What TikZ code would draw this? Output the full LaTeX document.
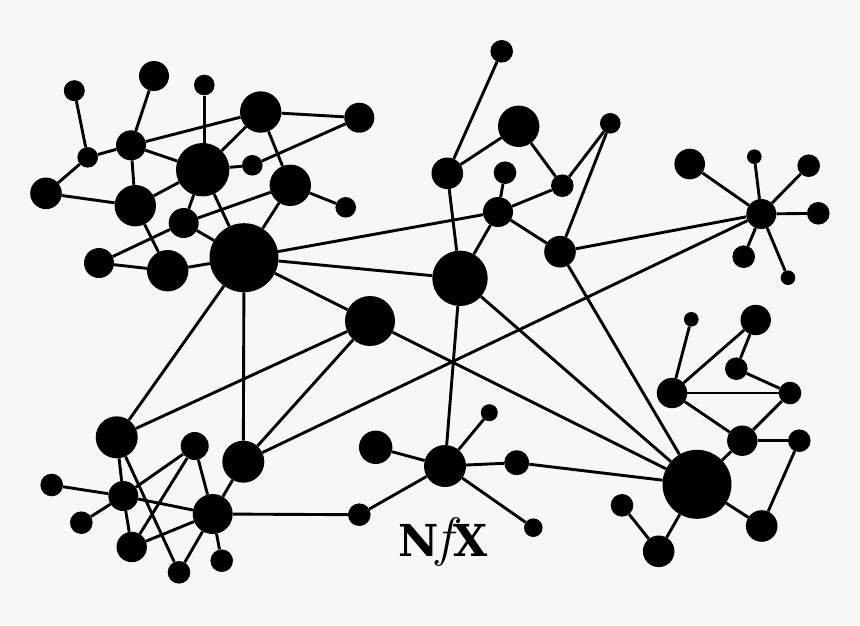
\documentclass[tikz,border=0pt]{standalone}
\usepackage{fontspec}
\newfontfamily\logoface{DejaVu Serif Bold}
\definecolor{paper}{HTML}{F7F7F7}
\tikzset{
  dot/.style={circle,fill=black,draw=none,inner sep=0pt,minimum size=#1},
  link/.style={draw=black,line width=2.9pt},
}
\begin{document}
\begin{tikzpicture}[x=1pt,y=-1pt]
\fill[paper] (0,0) rectangle (860,625);
\useasboundingbox (0,0) rectangle (860,625);
% top-left cluster
\node[dot=21] (a1) at (74.3,90.7) {};
\node[dot=30] (a2) at (154,76) {};
\node[dot=20.6] (a3) at (204.3,85) {};
\node[dot=41.4] (a4) at (260.7,112) {};
\node[dot=30] (a5) at (359.3,117.7) {};
\node[dot=30] (a6) at (131,145.3) {};
\node[dot=20.6] (a7) at (87.7,157.3) {};
\node[dot=53.4] (a8) at (202.7,169.7) {};
\node[dot=20.6] (a9) at (252.3,165.3) {};
\node[dot=41.4] (a10) at (290.3,185.3) {};
\node[dot=20.6] (a11) at (345.7,207.3) {};
\node[dot=31.6] (a12) at (46,193.3) {};
\node[dot=41.4] (a13) at (135.3,205.7) {};
\node[dot=30] (a14) at (183.7,223) {};
\node[dot=69] (a15) at (244,257.7) {};
\node[dot=30] (a16) at (99,263) {};
\node[dot=41.4] (a17) at (167.7,270.7) {};
\node[dot=50] (c) at (370,321) {};
% bottom-left cluster
\node[dot=42] (b1) at (116.7,437.3) {};
\node[dot=28] (b2) at (194.7,446) {};
\node[dot=42] (b3) at (243.3,461.7) {};
\node[dot=22.6] (b4) at (51.7,485) {};
\node[dot=30] (b5) at (123.3,496) {};
\node[dot=40] (b6) at (212.7,514) {};
\node[dot=22.6] (b7) at (81.3,522.7) {};
\node[dot=22.6] (b8) at (359.3,514.7) {};
\node[dot=30.4] (b9) at (131.7,547) {};
\node[dot=22.6] (b10) at (179,572.3) {};
\node[dot=22.6] (b11) at (221.7,560.7) {};
% bottom-centre cluster
\node[dot=33.4] (d1) at (375.7,447.3) {};
\node[dot=42] (d) at (445,466) {};
\node[dot=17] (d3) at (489.3,412.7) {};
\node[dot=25] (d4) at (516.7,462.7) {};
\node[dot=18.6] (d5) at (533.3,527.7) {};
% bottom-right cluster
\node[dot=14.6] (e1) at (691.3,319.3) {};
\node[dot=30.4] (e2) at (755.7,320) {};
\node[dot=22.6] (e3) at (736.3,368.7) {};
\node[dot=30.4] (e4) at (672,393) {};
\node[dot=22.6] (e5) at (790,393) {};
\node[dot=30.4] (e6) at (742.3,440.7) {};
\node[dot=22.6] (e7) at (799.3,440.7) {};
\node[dot=69] (E) at (697,484.3) {};
\node[dot=31.6] (e9) at (761.7,526) {};
\node[dot=22.6] (e10) at (622,505.3) {};
\node[dot=31.6] (e11) at (658.7,551.3) {};
% top-centre cluster
\node[dot=22.6] (f1) at (501.7,51.3) {};
\node[dot=41.4] (f2) at (518.7,126.3) {};
\node[dot=20.6] (f3) at (610.3,123.3) {};
\node[dot=31.6] (f4) at (447.3,173.3) {};
\node[dot=22.6] (f5) at (505,172.7) {};
\node[dot=22.6] (f6) at (562.3,185.7) {};
\node[dot=30] (f7) at (498,212) {};
\node[dot=31.6] (f8) at (560,251.7) {};
\node[dot=55.4] (F) at (460,278.3) {};
% right hub
\node[dot=30] (h) at (761.3,214) {};
\node[dot=30.6] (h1) at (689.7,164) {};
\node[dot=14.6] (h2) at (754.3,156.7) {};
\node[dot=22.6] (h3) at (808.7,165.7) {};
\node[dot=22.6] (h4) at (818.3,213.3) {};
\node[dot=22.6] (h5) at (743.7,256.7) {};
\node[dot=14.6] (h6) at (788,277.7) {};
% logo
\node[inner sep=0pt,anchor=base,font=\fontsize{44}{44}\selectfont] (logo) at (443,556) {{\logoface N}\hspace{-2pt}\raisebox{1pt}{\fontsize{54}{54}\selectfont\itshape f}\hspace{1pt}{\logoface X}};
% connectors
\draw[link] (a3) -- (a3 |- a8);
\foreach \p/\q in {a1/a7,a2/a6,a4/a6,a4/a5,a4/a8,a4/a10,a5/a9,a6/a7,a6/a8,a6/a13,a7/a12,a12/a13,a8/a13,a8/a9,a8/a14,a8/a15,a10/a11,a10/a14,a10/a15,a14/a15,a14/a16,a13/a17,a16/a17,a17/a15,
 b1/a15,b1/c,b3/a15,b3/c,b3/h,b1/b5,b1/b10,b2/b5,b2/b9,b2/b6,b3/b6,b4/b5,b5/b6,b5/b7,b5/b9,b6/b9,b6/b10,b6/b11,b6/b8,b8/d,
 d/d1,d/d3,d/d4,d/d5,d4/E,c/a15,c/E,
 e1/e4,e2/e4,e2/e3,e3/e5,e4/e5,e4/e6,e5/e6,e6/e7,e6/E,e7/e9,E/e9,e10/e11,E/e11,
 f1/f4,f2/f4,f2/f6,f3/f6,f3/f8,f4/F,f5/f7,f7/f6,f7/f8,f7/F,f7/a15,f8/h,f8/E,F/a15,F/d,F/E,
 h/h1,h/h2,h/h3,h/h4,h/h5,h/h6}
  \draw[link] (\p) -- (\q);
\end{tikzpicture}
\end{document}
